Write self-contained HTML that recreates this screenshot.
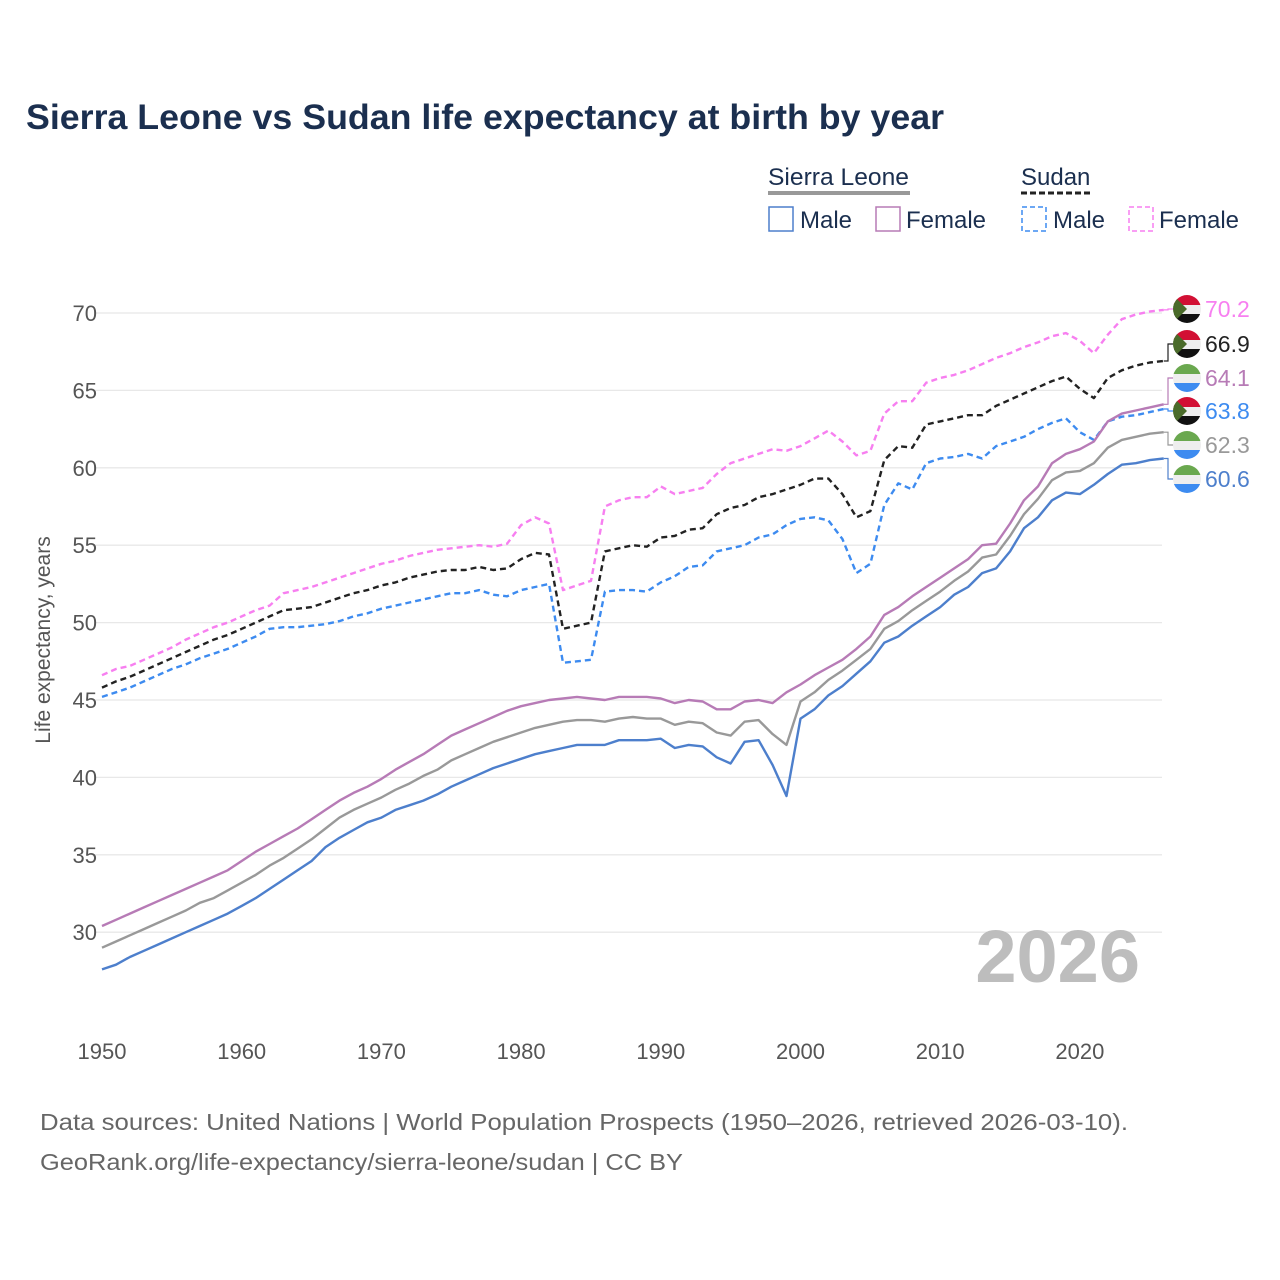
<!DOCTYPE html>
<html><head><meta charset="utf-8">
<style>
body{margin:0;background:#fff;width:1280px;height:1280px;overflow:hidden;font-family:"Liberation Sans",sans-serif}
svg{display:block}
</style></head>
<body>
<svg id="chart" width="1280" height="1280">
<defs>
<clipPath id="cc"><circle cx="0" cy="0" r="14"/></clipPath>
</defs>
<text x="26" y="129" font-size="35" font-weight="bold" fill="#1b2f4f" textLength="918" lengthAdjust="spacingAndGlyphs">Sierra Leone vs Sudan life expectancy at birth by year</text>
<g font-size="24" fill="#1b2f4f">
 <text x="768" y="185" textLength="141" lengthAdjust="spacingAndGlyphs">Sierra Leone</text>
 <line x1="768" y1="193" x2="910" y2="193" stroke="#999" stroke-width="4"/>
 <text x="1021" y="185">Sudan</text>
 <line x1="1021" y1="193" x2="1091" y2="193" stroke="#222" stroke-width="3" stroke-dasharray="6,3"/>
 <g><rect x="769" y="207" width="24" height="24" fill="none" stroke="#4d7fcc" stroke-width="1.5"/><text x="800" y="228">Male</text></g>
 <g><rect x="876" y="207" width="24" height="24" fill="none" stroke="#b77bb6" stroke-width="1.5"/><text x="906" y="228">Female</text></g>
 <g><rect x="1022" y="207" width="24" height="24" fill="none" stroke="#3d8bf0" stroke-width="1.5" stroke-dasharray="5,3"/><text x="1053" y="228">Male</text></g>
 <g><rect x="1129" y="207" width="24" height="24" fill="none" stroke="#f77ff0" stroke-width="1.5" stroke-dasharray="5,3"/><text x="1159" y="228">Female</text></g>
</g>
<g id="grid"></g>
<g id="series"></g>
<g id="ends"></g>
<text x="1140" y="982" font-size="74" font-weight="bold" fill="#bdbdbd" text-anchor="end">2026</text>
<text transform="translate(50,640) rotate(-90)" font-size="21" fill="#555" text-anchor="middle">Life expectancy, years</text>
<text x="40" y="1130" font-size="23" fill="#666" textLength="1088" lengthAdjust="spacingAndGlyphs">Data sources: United Nations | World Population Prospects (1950–2026, retrieved 2026-03-10).</text>
<text x="40" y="1170" font-size="23" fill="#666" textLength="643" lengthAdjust="spacingAndGlyphs">GeoRank.org/life-expectancy/sierra-leone/sudan | CC BY</text>
</svg>
<script>
const startYear = 1950;
const yTicks = [30,35,40,45,50,55,60,65,70];
const xTicks = [1950,1960,1970,1980,1990,2000,2010,2020];
const sdFemale = [46.6,47.0,47.2,47.6,48.0,48.4,48.9,49.3,49.7,50.0,50.4,50.8,51.1,51.9,52.1,52.3,52.6,52.9,53.2,53.5,53.8,54.0,54.3,54.5,54.7,54.8,54.9,55.0,54.9,55.1,56.3,56.8,56.4,52.1,52.4,52.7,57.5,57.9,58.1,58.1,58.8,58.3,58.5,58.7,59.6,60.3,60.6,60.9,61.2,61.1,61.4,61.9,62.4,61.7,60.8,61.1,63.5,64.3,64.3,65.5,65.8,66.0,66.3,66.7,67.1,67.4,67.8,68.1,68.5,68.7,68.2,67.4,68.6,69.6,69.9,70.1,70.2];
const sdBoth = [45.8,46.2,46.5,46.9,47.3,47.7,48.1,48.5,48.9,49.2,49.6,50.0,50.4,50.8,50.9,51.0,51.3,51.6,51.9,52.1,52.4,52.6,52.9,53.1,53.3,53.4,53.4,53.6,53.4,53.5,54.1,54.5,54.4,49.6,49.8,50.0,54.6,54.8,55.0,54.9,55.5,55.6,56.0,56.1,57.0,57.4,57.6,58.1,58.3,58.6,58.9,59.3,59.3,58.3,56.8,57.2,60.5,61.4,61.3,62.8,63.0,63.2,63.4,63.4,64.0,64.4,64.8,65.2,65.6,65.9,65.1,64.5,65.8,66.3,66.6,66.8,66.9];
const sdMale = [45.2,45.5,45.8,46.2,46.6,47.0,47.3,47.7,48.0,48.3,48.7,49.1,49.6,49.7,49.7,49.8,49.9,50.1,50.4,50.6,50.9,51.1,51.3,51.5,51.7,51.9,51.9,52.1,51.8,51.7,52.1,52.3,52.5,47.4,47.5,47.6,52.0,52.1,52.1,52.0,52.6,53.0,53.6,53.7,54.6,54.8,55.0,55.5,55.7,56.3,56.7,56.8,56.6,55.4,53.2,53.8,57.6,59.0,58.6,60.3,60.6,60.7,60.9,60.6,61.4,61.7,62.0,62.5,62.9,63.2,62.3,61.8,63.0,63.3,63.4,63.6,63.8];
const slFemale = [30.4,30.8,31.2,31.6,32.0,32.4,32.8,33.2,33.6,34.0,34.6,35.2,35.7,36.2,36.7,37.3,37.9,38.5,39.0,39.4,39.9,40.5,41.0,41.5,42.1,42.7,43.1,43.5,43.9,44.3,44.6,44.8,45.0,45.1,45.2,45.1,45.0,45.2,45.2,45.2,45.1,44.8,45.0,44.9,44.4,44.4,44.9,45.0,44.8,45.5,46.0,46.6,47.1,47.6,48.3,49.1,50.5,51.0,51.7,52.3,52.9,53.5,54.1,55.0,55.1,56.4,57.9,58.8,60.3,60.9,61.2,61.7,63.0,63.5,63.7,63.9,64.1];
const slBoth = [29.0,29.4,29.8,30.2,30.6,31.0,31.4,31.9,32.2,32.7,33.2,33.7,34.3,34.8,35.4,36.0,36.7,37.4,37.9,38.3,38.7,39.2,39.6,40.1,40.5,41.1,41.5,41.9,42.3,42.6,42.9,43.2,43.4,43.6,43.7,43.7,43.6,43.8,43.9,43.8,43.8,43.4,43.6,43.5,42.9,42.7,43.6,43.7,42.8,42.1,44.9,45.5,46.3,46.9,47.6,48.3,49.6,50.1,50.8,51.4,52.0,52.7,53.3,54.2,54.4,55.6,57.0,58.0,59.2,59.7,59.8,60.3,61.3,61.8,62.0,62.2,62.3];
const slMale = [27.6,27.9,28.4,28.8,29.2,29.6,30.0,30.4,30.8,31.2,31.7,32.2,32.8,33.4,34.0,34.6,35.5,36.1,36.6,37.1,37.4,37.9,38.2,38.5,38.9,39.4,39.8,40.2,40.6,40.9,41.2,41.5,41.7,41.9,42.1,42.1,42.1,42.4,42.4,42.4,42.5,41.9,42.1,42.0,41.3,40.9,42.3,42.4,40.8,38.8,43.8,44.4,45.3,45.9,46.7,47.5,48.7,49.1,49.8,50.4,51.0,51.8,52.3,53.2,53.5,54.6,56.1,56.8,57.9,58.4,58.3,58.9,59.6,60.2,60.3,60.5,60.6];

const NS = 'http://www.w3.org/2000/svg';
const X = yr => 102 + (yr - 1950) * 13.97;
const Y = v => 313 + (70 - v) * 15.48;
function mk(tag, attrs, parent){const e=document.createElementNS(NS,tag);for(const k in attrs)e.setAttribute(k,attrs[k]);parent.appendChild(e);return e;}
const grid=document.getElementById('grid');
yTicks.forEach(t=>{
  const l=mk('line',{x1:95,x2:1162,y1:Y(t),y2:Y(t),stroke:'#e8e8e8','stroke-width':1.3},grid);
  
  
  const tx=mk('text',{x:97,y:Y(t)+8,'font-size':22,fill:'#555','text-anchor':'end'},grid);
  tx.textContent=t;
  
  
});
xTicks.forEach(t=>{
  const tx=mk('text',{x:X(t),y:1059,'font-size':22,fill:'#555','text-anchor':'middle'},grid);
  tx.textContent=t;
  
  
});
// [name, data, colour, dash, label slot y, flag]
const seriesDefs=[
 ['sudan-female-line',sdFemale,'#f77ff0','6,4',309,'sd'],
 ['sudan-both-line',sdBoth,'#222','6,4',344,'sd'],
 ['sudan-male-line',sdMale,'#3d8bf0','6,4',411,'sd'],
 ['sierra-leone-female-line',slFemale,'#b77bb6','',378,'sl'],
 ['sierra-leone-both-line',slBoth,'#999','',445,'sl'],
 ['sierra-leone-male-line',slMale,'#4d7fcc','',479,'sl']
];
const sg=document.getElementById('series');
seriesDefs.forEach(([name,arr,col,dash])=>{
  const d=arr.map((v,i)=>(i?'L':'M')+X(startYear+i).toFixed(1)+','+Y(v).toFixed(1)).join('');
  const p=mk('path',{d:d,fill:'none',stroke:col,'stroke-width':2.4,'stroke-dasharray':dash,'stroke-linejoin':'round'},sg);
  
  
});
const ends=document.getElementById('ends');
seriesDefs.forEach(([name,arr,col,dash,ly,flag])=>{
  const last=arr[arr.length-1];
  const yv=Y(last), x0=X(startYear+arr.length-1);
  mk('path',{d:`M${x0},${yv}H1168V${ly}H1176`,fill:'none',stroke:col,'stroke-width':1.2},ends);
  const g=mk('g',{transform:`translate(1187,${ly})`},ends);
  
  
  const c=mk('g',{'clip-path':'url(#cc)'},g);
  if(flag==='sd'){
    mk('rect',{x:-14,y:-14,width:28,height:10,fill:'#d21034'},c);
    mk('rect',{x:-14,y:-4,width:28,height:9,fill:'#eee'},c);
    mk('rect',{x:-14,y:5,width:28,height:10,fill:'#111'},c);
    mk('polygon',{points:'-14,-14 0,0 -14,14',fill:'#4a6b2a'},c);
  } else {
    mk('rect',{x:-14,y:-14,width:28,height:10,fill:'#6aa84f'},c);
    mk('rect',{x:-14,y:-4,width:28,height:9,fill:'#eee'},c);
    mk('rect',{x:-14,y:5,width:28,height:10,fill:'#3d8bf0'},c);
  }
  const t=mk('text',{x:1205,y:ly+8,'font-size':23,fill:col},ends);
  t.textContent=last.toFixed(1);
  
  
});
</script>
</body></html>
